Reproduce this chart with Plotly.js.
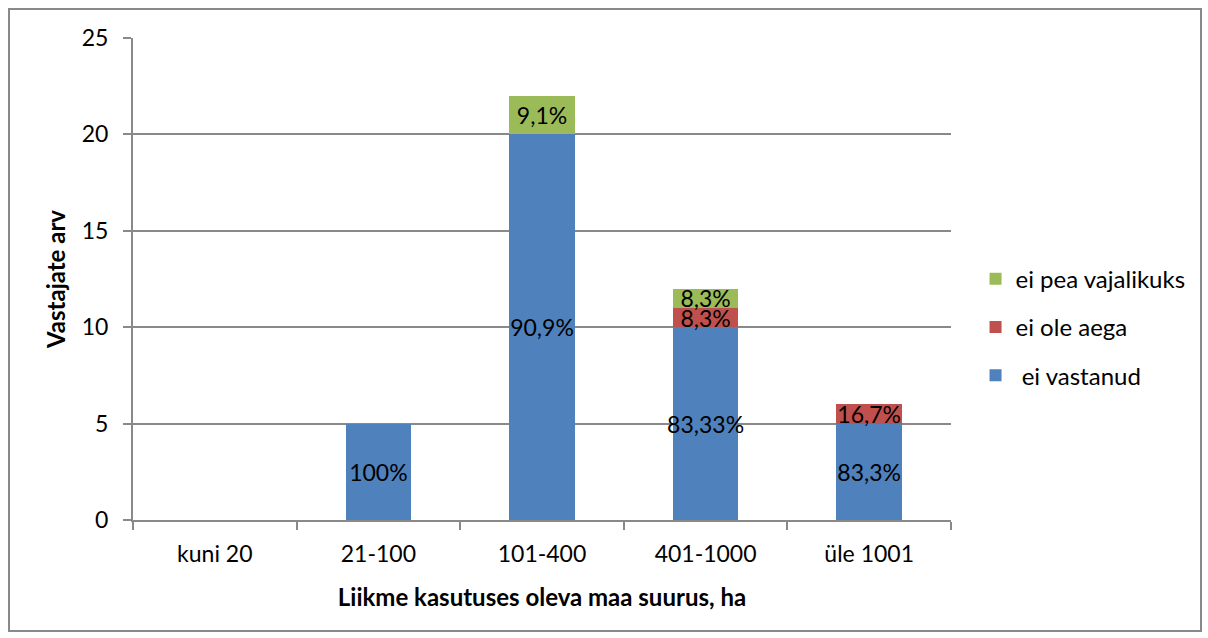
<!DOCTYPE html>
<html>
<head>
<meta charset="utf-8">
<script src="https://cdn.plot.ly/plotly-3.0.1.min.js"></script>
<style>
  html, body { margin: 0; padding: 0; background: #fff; }
  #wrap { position: relative; width: 1208px; height: 638px; }
  #chart { width: 1208px; height: 638px; }
  #frame { position: absolute; left: 8px; top: 8px; width: 1190px; height: 620px;
           border: 2px solid #898989; pointer-events: none; }
</style>
</head>
<body>
<div id="wrap">
  <div id="chart"></div>
  <div id="frame"></div>
</div>
<script>
const categories = ["kuni 20", "21-100", "101-400", "401-1000", "üle 1001"];

const seriesNames = ["\u00a0ei vastanud", "ei ole aega", "ei pea vajalikuks"];
const eiVastanud = [0, 5, 20, 10, 5];
const eiOleAega = [0, 0, 0, 1, 1];
const eiPeaVajalikuks = [0, 0, 2, 1, 0];

const eiVastanudLabels = ["", "100%", "90,9%", "83,33%", "83,3%"];
const eiOleAegaLabels = ["", "", "", "8,3%", "16,7%"];
const eiPeaVajalikuksLabels = ["", "", "9,1%", "8,3%", ""];

const colors = ["#4F81BD", "#C0504D", "#9BBB59"];
const FONT = "Lato, 'Open Sans', sans-serif";

function mk(name, vals, labels, color, grp, rank) {
  return {
    type: "bar",
    name: name,
    x: categories,
    y: vals,
    text: labels,
    textposition: "inside",
    insidetextanchor: "middle",
    textangle: 0,
    constraintext: "none",
    textfont: { family: FONT, size: 23, color: "#000" },
    marker: { color: color, line: { width: 0 } },
    legendgroup: grp,
    legendrank: rank,
    hoverinfo: "x+y+name"
  };
}

const data = [
  mk(seriesNames[0], eiVastanud, eiVastanudLabels, colors[0], "a", 3),
  mk(seriesNames[1], eiOleAega, eiOleAegaLabels, colors[1], "b", 2),
  mk(seriesNames[2], eiPeaVajalikuks, eiPeaVajalikuksLabels, colors[2], "c", 1)
];

const layout = {
  width: 1208,
  height: 638,
  margin: { l: 133, r: 257, t: 38, b: 118 },
  paper_bgcolor: "#fff",
  plot_bgcolor: "#fff",
  barmode: "stack",
  bargap: 0.6,
  font: { family: FONT, size: 23, color: "#000" },
  showlegend: true,
  legend: {
    x: 1.03, xanchor: "left",
    y: 0.40, yanchor: "middle",
    traceorder: "grouped",
    tracegroupgap: 14,
    font: { family: FONT, size: 24, color: "#000" },
    itemwidth: 30
  },
  xaxis: {
    type: "category",
    showline: true, linecolor: "#898989", linewidth: 2,
    ticks: "outside", ticklen: 8, tickcolor: "#898989", tickwidth: 2,
    tickson: "boundaries",
    showgrid: false,
    ticklabelstandoff: 12,
    tickfont: { family: FONT, size: 23, color: "#000" },
    title: { text: "Liikme kasutuses oleva maa suurus, ha",
             font: { family: FONT, size: 24, color: "#000", weight: "bold" },
             standoff: 24 }
  },
  yaxis: {
    range: [0, 25], dtick: 5, tick0: 0,
    showline: true, linecolor: "#898989", linewidth: 2,
    ticks: "outside", ticklen: 8, tickcolor: "#898989", tickwidth: 2,
    showgrid: true, gridcolor: "#898989", gridwidth: 2,
    zeroline: false,
    ticklabelstandoff: 10,
    tickfont: { family: FONT, size: 23, color: "#000" },
    title: { text: "Vastajate arv",
             font: { family: FONT, size: 24, color: "#000", weight: "bold" },
             standoff: 9 }
  }
};

Plotly.newPlot("chart", data, layout, { displayModeBar: false, staticPlot: true });
</script>
</body>
</html>
